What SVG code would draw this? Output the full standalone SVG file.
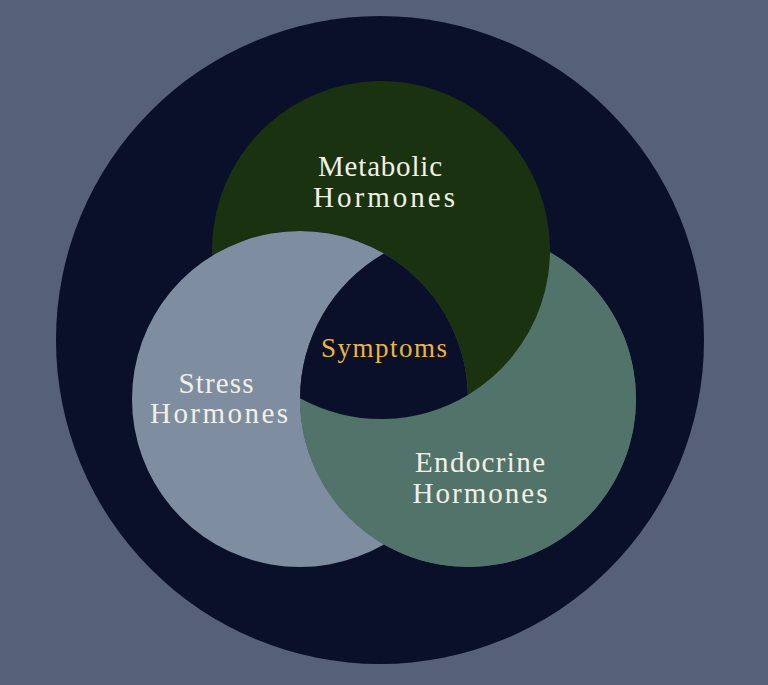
<svg xmlns="http://www.w3.org/2000/svg" width="768" height="685" viewBox="0 0 768 685">
<style>
.lbl{font-family:"Liberation Serif","Times New Roman",serif;font-size:29px;fill:#f2f0e6;text-anchor:middle}
.sym{font-family:"Liberation Serif","Times New Roman",serif;font-size:27px;fill:#e9b83c;text-anchor:middle}
.stress{fill:#7e8d9f}
.metab{fill:#1a320f}
.endo{fill:#52736a}
.navy{fill:#0a0f2a}
</style>
<rect width="768" height="685" fill="#566079"/>
<g id="outer"><circle class="navy" cx="380" cy="340" r="324"/></g>
<g id="endocrine">
<circle class="endo" cx="468" cy="399" r="168"/>
<path class="endo" d="M549.98,252.37 A168,168 0 1 1 300.00,398.33 A169,169 0 0 0 549.98,252.37 Z"/>
</g>
<g id="metabolic">
<path class="metab" d="M212.10,255.84 A169,169 0 1 1 467.96,394.92 A168,168 0 0 0 212.10,255.84 Z"/>
</g>
<g id="stress">
<path class="stress" d="M384,253.51 A168,168 0 1 0 384,544.49 A168,168 0 0 1 384,253.51 Z"/>
</g>
<g id="symptoms">
<path class="navy" d="M384,253.51 A168,168 0 0 0 300,398.33 A169,169 0 0 0 467.96,394.92 A168,168 0 0 0 384,253.51 Z"/>
</g>
<g id="connectors"></g>
<g id="labels">
<text class="lbl" x="380" y="176" textLength="124" lengthAdjust="spacing">Metabolic</text>
<text class="lbl" x="384" y="207" textLength="142" lengthAdjust="spacing">Hormones</text>
<text class="lbl" x="216" y="393" textLength="75" lengthAdjust="spacing">Stress</text>
<text class="lbl" x="219" y="423" textLength="138" lengthAdjust="spacing">Hormones</text>
<text class="lbl" x="480" y="472" textLength="130" lengthAdjust="spacing">Endocrine</text>
<text class="lbl" x="480" y="503" textLength="135" lengthAdjust="spacing">Hormones</text>
<text class="sym" x="384" y="357" textLength="126" lengthAdjust="spacing">Symptoms</text>
</g>
</svg>
